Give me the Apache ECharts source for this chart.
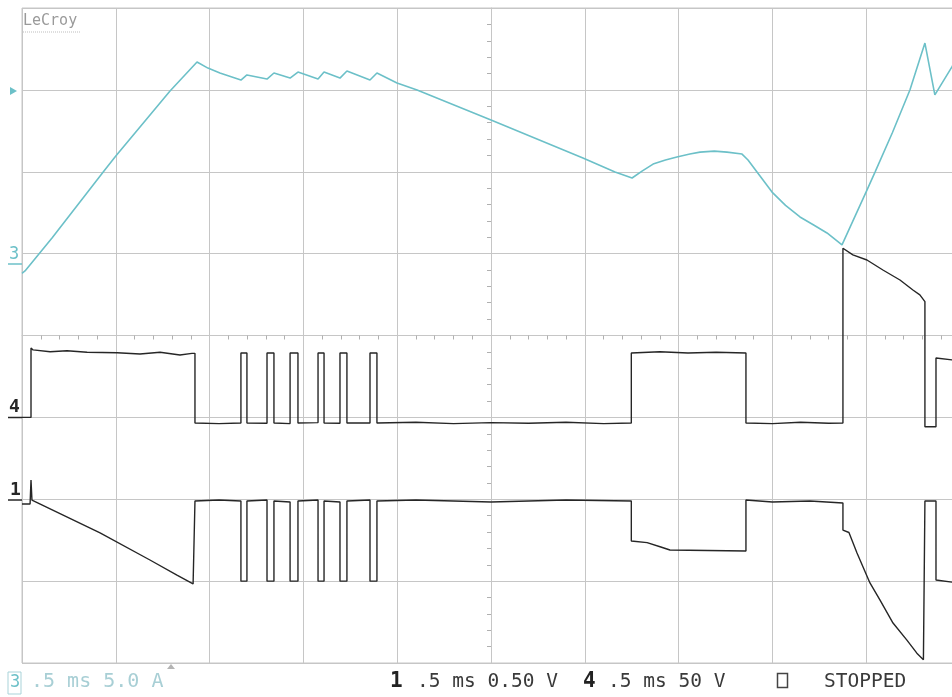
<!DOCTYPE html>
<html>
<head>
<meta charset="utf-8">
<title>LeCroy</title>
<script src="https://cdn.jsdelivr.net/npm/echarts/dist/echarts.min.js"></script>
<style>
  html, body { margin: 0; padding: 0; background: #fff; overflow: hidden; }
  /* the screen grid runs a little past the right edge of the window */
  #scope { width: 962px; height: 697px; }
</style>
</head>
<body>
<div id="scope"></div>
<script>
// time in ms (0.5 ms/div, trigger at centre), values in channel units
const ch3Current = [ // A, 5.0 A/div
  [-2.5, -1.2], [-2.484, -1.06], [-2.340, 0.95], [-2.063, 5.04], [-2.000, 5.96], [-1.711, 9.93],
  [-1.567, 11.70], [-1.509, 11.33], [-1.445, 11.03], [-1.333, 10.60], [-1.301, 10.91],
  [-1.194, 10.66], [-1.157, 11.03], [-1.071, 10.72], [-1.029, 11.09], [-0.922, 10.66],
  [-0.890, 11.09], [-0.805, 10.72], [-0.768, 11.15], [-0.645, 10.60], [-0.608, 11.03],
  [-0.501, 10.42], [-0.394, 9.99], [0.000, 8.16], [0.490, 5.84], [0.661, 4.98],
  [0.752, 4.62], [0.805, 5.04], [0.864, 5.47], [0.930, 5.72], [0.991, 5.90], [1.060, 6.08],
  [1.114, 6.20], [1.190, 6.26], [1.258, 6.20], [1.338, 6.08], [1.370, 5.72], [1.430, 4.80],
  [1.498, 3.76], [1.570, 2.95], [1.647, 2.24], [1.720, 1.75], [1.791, 1.26], [1.871, 0.53],
  [2.004, 3.88], [2.047, 4.98], [2.140, 7.40], [2.233, 9.99], [2.313, 12.86], [2.366, 9.69],
  [2.457, 11.40], [2.5, 12.3]
];

const ch4Voltage = [ // V, 50 V/div
  [-2.5, 0], [-2.452, 0], [-2.452, 42.4], [-2.441, 41.2], [-2.350, 40.1], [-2.260, 40.7],
  [-2.153, 39.8], [-1.993, 39.5], [-1.871, 38.7], [-1.764, 39.8], [-1.658, 38.1],
  [-1.594, 39.1], [-1.578, 39.1], [-1.578, -3.4], [-1.45, -3.8], [-1.333, -3.4],
  [-1.333, 39.3], [-1.301, 39.3], [-1.301, -3.4], [-1.194, -3.6],
  [-1.194, 39.3], [-1.157, 39.3], [-1.157, -3.4], [-1.071, -3.8],
  [-1.071, 39.3], [-1.029, 39.3], [-1.029, -3.4], [-0.922, -3.2],
  [-0.922, 39.3], [-0.890, 39.3], [-0.890, -3.4], [-0.805, -3.6],
  [-0.805, 39.3], [-0.768, 39.3], [-0.768, -3.4], [-0.645, -3.4],
  [-0.645, 39.3], [-0.608, 39.3], [-0.608, -3.4],
  [-0.40, -3.0], [-0.20, -3.8], [0.00, -3.2], [0.20, -3.6], [0.40, -3.0], [0.60, -3.8],
  [0.748, -3.4], [0.748, 39.3], [0.90, 40.1], [1.05, 39.3], [1.20, 39.8], [1.359, 39.3],
  [1.359, -3.4], [1.50, -3.8], [1.65, -3.0], [1.80, -3.6], [1.876, -3.4],
  [1.876, 103.3], [1.929, 99.2], [2.004, 96.1], [2.089, 90.0], [2.180, 83.9],
  [2.249, 77.8], [2.286, 74.8], [2.313, 70.7], [2.313, -5.7], [2.372, -5.7],
  [2.372, 36.3], [2.457, 35.1], [2.5, 35.1]
];

const ch1Voltage = [ // V, 0.50 V/div
  [-2.5, -0.029], [-2.457, -0.029], [-2.452, 0.118], [-2.447, -0.005], [-2.441, -0.005],
  [-2.084, -0.206], [-1.818, -0.371], [-1.674, -0.463], [-1.588, -0.517], [-1.578, -0.52],
  [-1.578, -0.011], [-1.45, -0.005], [-1.333, -0.011],
  [-1.333, -0.50], [-1.301, -0.50], [-1.301, -0.011], [-1.194, -0.005],
  [-1.194, -0.50], [-1.157, -0.50], [-1.157, -0.011], [-1.071, -0.017],
  [-1.071, -0.50], [-1.029, -0.50], [-1.029, -0.011], [-0.922, -0.005],
  [-0.922, -0.50], [-0.890, -0.50], [-0.890, -0.011], [-0.805, -0.017],
  [-0.805, -0.50], [-0.768, -0.50], [-0.768, -0.011], [-0.645, -0.005],
  [-0.645, -0.50], [-0.608, -0.50], [-0.608, -0.011],
  [-0.40, -0.005], [0.0, -0.017], [0.4, -0.005], [0.748, -0.011],
  [0.748, -0.255], [0.832, -0.265], [0.901, -0.29], [0.954, -0.31], [1.359, -0.316],
  [1.359, -0.005], [1.5, -0.017], [1.7, -0.011], [1.876, -0.023],
  [1.876, -0.188], [1.908, -0.203], [1.951, -0.328], [2.020, -0.511], [2.073, -0.615],
  [2.143, -0.756], [2.217, -0.86], [2.270, -0.94], [2.305, -0.98],
  [2.313, -0.011], [2.372, -0.011], [2.372, -0.493], [2.457, -0.506], [2.5, -0.506]
];

const cyan = '#6cc0c8';
const trace = '#262626';
const gridColor = '#c6c6c6';
const mono = '"DejaVu Sans Mono", "Liberation Mono", monospace';

const chart = echarts.init(document.getElementById('scope'));

chart.setOption({
  backgroundColor: '#fff',
  animation: false,
  grid: {
    left: 22, top: 8, width: 938, height: 655,
    show: true, borderColor: gridColor, borderWidth: 1
  },
  xAxis: {
    type: 'value', min: -2.5, max: 2.5, interval: 0.5,
    axisLabel: { show: false },
    axisTick: { show: false },
    axisLine: { onZero: true, onZeroAxisIndex: 0, lineStyle: { color: gridColor } },
    minorTick: { show: true, splitNumber: 5, length: 4, lineStyle: { color: '#b0b0b0' } },
    splitLine: { lineStyle: { color: gridColor } }
  },
  yAxis: [
    { // screen divisions
      type: 'value', min: -4, max: 4, interval: 1,
      axisLabel: { show: false },
      axisTick: { show: false },
      axisLine: { onZero: true, lineStyle: { color: gridColor } },
      minorTick: { show: true, splitNumber: 5, length: 4, lineStyle: { color: '#b0b0b0' } },
      splitLine: { lineStyle: { color: gridColor } }
    },
    { type: 'value', min: -25, max: 15, show: false },   // ch3, ground +1 div
    { type: 'value', min: -150, max: 250, show: false }, // ch4, ground -1 div
    { type: 'value', min: -1, max: 3, show: false }      // ch1, ground -2 div
  ],
  series: [
    {
      name: 'C3', type: 'line', yAxisIndex: 1, data: ch3Current,
      showSymbol: false, lineStyle: { color: cyan, width: 1.6 }
    },
    {
      name: 'C4', type: 'line', yAxisIndex: 2, data: ch4Voltage,
      showSymbol: false, lineStyle: { color: trace, width: 1.4 }
    },
    {
      name: 'C1', type: 'line', yAxisIndex: 3, data: ch1Voltage,
      showSymbol: false, lineStyle: { color: trace, width: 1.4 }
    }
  ],
  graphic: [
    { type: 'text', x: 23, y: 21, style: { text: 'LeCroy', font: '15px ' + mono, fill: '#9a9a9a', verticalAlign: 'middle' } },
    { type: 'line', shape: { x1: 23, y1: 32, x2: 80, y2: 32 }, style: { stroke: '#bdbdbd', lineDash: [1, 1] } },
    // trigger level marker
    { type: 'polygon', shape: { points: [[10, 87], [10, 95], [17, 91]] }, style: { fill: cyan } },
    // channel ground markers
    { type: 'text', x: 9, y: 255, style: { text: '3', font: '17px ' + mono, fill: cyan, verticalAlign: 'middle' } },
    { type: 'line', shape: { x1: 8, y1: 264, x2: 22, y2: 264 }, style: { stroke: cyan, lineWidth: 1.5 } },
    { type: 'text', x: 9, y: 407, style: { text: '4', font: 'bold 18px ' + mono, fill: trace, verticalAlign: 'middle' } },
    { type: 'line', shape: { x1: 8, y1: 417.5, x2: 22, y2: 417.5 }, style: { stroke: trace, lineWidth: 1.5 } },
    { type: 'text', x: 10, y: 490, style: { text: '1', font: 'bold 18px ' + mono, fill: trace, verticalAlign: 'middle' } },
    { type: 'line', shape: { x1: 8, y1: 500, x2: 22, y2: 500 }, style: { stroke: trace, lineWidth: 1.5 } },
    // bottom status line
    { type: 'rect', shape: { x: 8, y: 672, width: 13, height: 22 }, style: { fill: 'none', stroke: '#a9d3d9' } },
    { type: 'text', x: 10, y: 683, style: { text: '3', font: '17px ' + mono, fill: cyan, verticalAlign: 'middle' } },
    { type: 'text', x: 31, y: 682, style: { text: '.5 ms 5.0 A', font: '20px ' + mono, fill: '#a8cfd5', verticalAlign: 'middle' } },
    { type: 'polygon', shape: { points: [[167, 669], [175, 669], [171, 664]] }, style: { fill: '#b4b4b4' } },
    { type: 'text', x: 390, y: 682, style: { text: '1', font: 'bold 21px ' + mono, fill: '#222', verticalAlign: 'middle' } },
    { type: 'text', x: 417, y: 682, style: { text: '.5 ms 0.50 V', font: '19.5px ' + mono, fill: '#3a3a3a', verticalAlign: 'middle' } },
    { type: 'text', x: 583, y: 682, style: { text: '4', font: 'bold 21px ' + mono, fill: '#222', verticalAlign: 'middle' } },
    { type: 'text', x: 608, y: 682, style: { text: '.5 ms 50 V', font: '19.5px ' + mono, fill: '#3a3a3a', verticalAlign: 'middle' } },
    { type: 'rect', shape: { x: 777.5, y: 673.5, width: 10, height: 14 }, style: { fill: 'none', stroke: '#444', lineWidth: 1.5 } },
    { type: 'text', x: 824, y: 682, style: { text: 'STOPPED', font: '19.5px ' + mono, fill: '#3a3a3a', verticalAlign: 'middle' } }
  ]
});
</script>
</body>
</html>
